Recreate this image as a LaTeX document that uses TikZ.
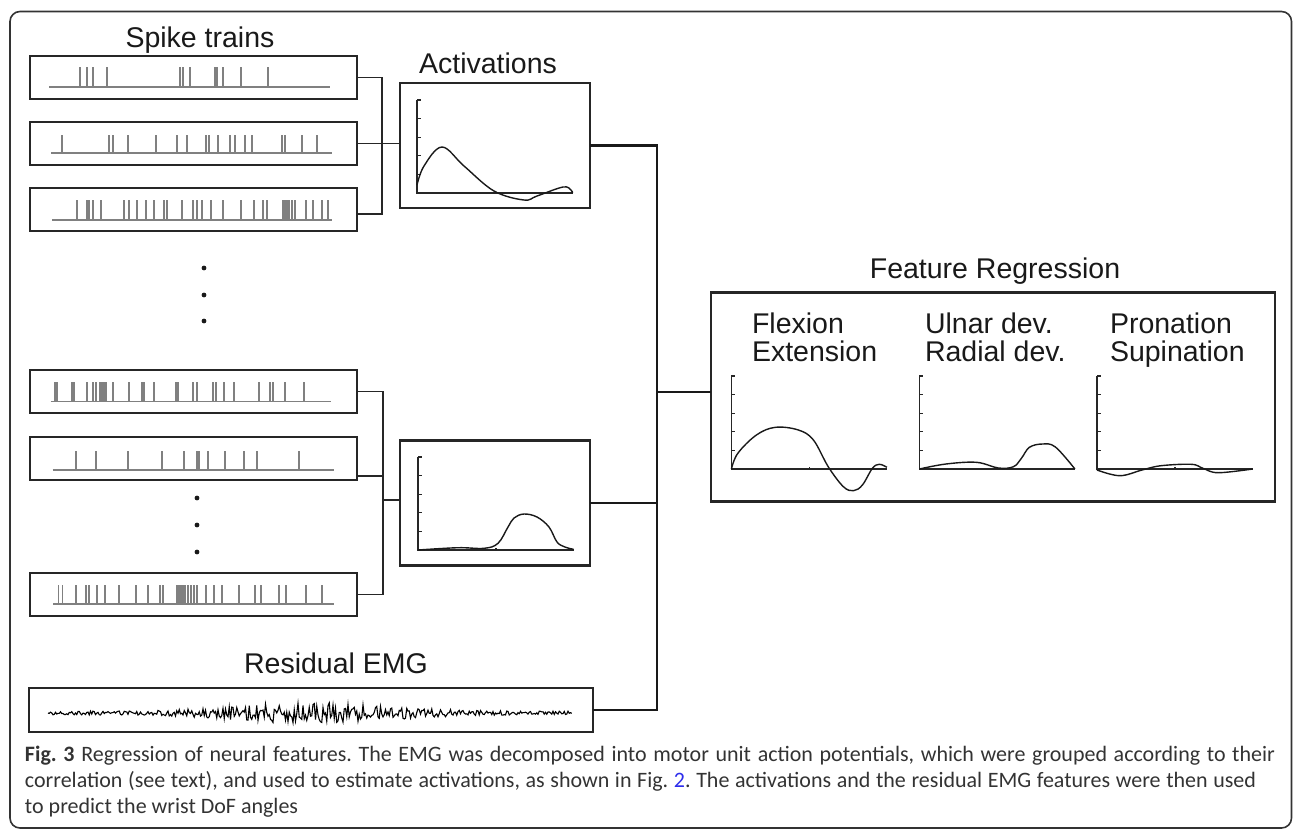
\documentclass[tikz,border=0pt]{standalone}
\usepackage{fontspec}
\setmainfont{Liberation Sans}
\newfontfamily\capfont{Carlito}
\usetikzlibrary{positioning}
\definecolor{linkblue}{RGB}{45,45,235}

% one spike train: baseline y, x from, x to, spike height, spike positions
\newcommand\spiketrain[5]{%
  \draw[spk] (#2,#1) -- (#3,#1);
  \foreach \s in {#5} \draw[spk] (\s,#1) -- (\s,#1-#4);}
% small plot with ticked axes, origin at the axes corner
\newcommand\miniplot[2]{%
  \begin{scope}[shift={#1}, yscale=-1]
    \draw[axis] (0,93) -- (0,0) -- (155.5,0);
    \foreach \t in {18.6,37.2,55.8,74.4,93} \draw[axis] (0,\t) -- (4,\t);
    \draw[axis] (78,0) -- (78,2);
    \draw[curve] plot[smooth, tension=0.6] coordinates {#2};
  \end{scope}}

\begin{document}
\frenchspacing
\begin{tikzpicture}[x=0.5pt,y=-0.5pt]
\tikzset{every node/.style={inner sep=0pt, outer sep=0pt}}
\tikzset{trainbox/.style={draw=black!85, line width=1.1pt, minimum width=163.5pt, minimum height=21.5pt}}
\tikzset{plotbox/.style={draw=black!85, line width=1.1pt, minimum width=95pt, minimum height=62.5pt}}
\tikzset{widebox/.style={draw=black!85, line width=1.1pt, minimum width=282pt}}
\tikzset{title/.style={font=\fontsize{14.25}{14}\selectfont, text=black!90, anchor=base}}
\tikzset{subtitle/.style={title, anchor=base west, align=left}}
\tikzset{captext/.style={font=\capfont\fontsize{11}{13}\selectfont, text=black!80, anchor=base west}}
\tikzset{spk/.style={draw=black!50, line width=0.75pt}}
\tikzset{axis/.style={draw=black!85, line width=0.6pt}}
\tikzset{curve/.style={draw=black!90, line width=0.7pt}}
\tikzset{link/.style={draw=black!85, line width=0.8pt}}
\tikzset{busline/.style={draw=black!90, line width=1.2pt}}
\useasboundingbox (0,0) rectangle (1293,831);
\draw[black!80, line width=0.8pt, rounded corners=5pt] (10,11.5) rectangle (1291.5,828);

% spike trains
\node[title] (tspike) at (200,47) {Spike trains};
\node[trainbox] (st1) at (193.5,77.5) {};
\node[trainbox, below=11.5pt of st1] (st2) {};
\node[trainbox, below=11.5pt of st2] (st3) {};
\node[trainbox] (st4) at (193.5,391.5) {};
\node[trainbox, below=12pt of st4] (st5) {};
\node[trainbox] (st6) at (193.5,594.5) {};
\spiketrain{87}{49}{330}{20}{80,87,93,107,180,183,190,215,217,223,241,268}
\spiketrain{153}{51}{332}{18}{62,109,113,128,156,177,187,206,209,218,230,235,245,252,282,285,302,317}
\spiketrain{220}{52}{332}{20}{77,87,89,93,101,124,129,137,146,154,164,167,182,193,197,202,211,223,241,254,263,267,283,285,287,289,292,295,306,313,322,328}
\spiketrain{401.7}{50.6}{331}{20}{55,57,72,74,87,93,96,100,102,104,106,113,129,142,144,154,176,178,193,197,213,216,224,234,259,270,273,285,304}
\spiketrain{470}{52.6}{334}{19}{76,96,128,162,184,197,199,208,225,244,257,299}
\spiketrain{604}{53}{334}{19}{58.5,62.5,76,86,89,97,105,119,136,148,160,163,177,179,181,183,185,188,191,194,197,206,214,222,239,255,261,279,286,306,322}
\foreach \y in {268,295,321} \fill[black!90] (204,\y) circle (1.2pt);
\foreach \y in {498,525,552} \fill[black!90] (197,\y) circle (1.2pt);

% activations
\node[title] (tact) at (488,73) {Activations};
\node[plotbox] (act1) at (495,145.5) {};
\node[plotbox] (act2) at (495,503) {};
\miniplot{(417,193)}{(0,8) (7,27) (25,46) (47,27) (77,2) (107,-7) (120,-3) (146,6) (154,3) (155.5,0)}
\miniplot{(418,550)}{(0,0) (40,2.3) (66,1.7) (80,6.7) (90,23) (96,32) (106,36) (119,33) (131,23) (139,8) (147,3) (155.5,0.7)}

\coordinate (ja) at (382,145);
\coordinate (jb) at (383,500);
\draw[link] (st1.east) -| (ja) |- ([yshift=-2.25pt]st3.east);
\draw[link] (st2.east) -- (st2.east -| act1.west);
\draw[link] (st4.east) -| (jb) |- (st6.east);
\draw[link] ([yshift=-8.75pt]st5.east) -- ([yshift=-8.75pt]st5.east -| jb);
\draw[link] (jb) -- (jb -| act2.west);

% residual EMG
\node[title] (temg) at (336,673) {Residual EMG};
\node[widebox, minimum height=22pt] (emg) at (311,710) {};
\pgfmathsetseed{7}
\draw[black, line width=0.55pt] (48,713) \foreach \i [evaluate=\i as \xx using 48+1.25*\i,
  evaluate=\i as \aa using 1.8+9*exp(-((48+1.25*\i-315)/105)^2)] in {1,...,419} { -- (\xx,{713+\aa*rand}) };

% feature regression
\node[title] (tfr) at (995,278) {Feature Regression};
\node[widebox, minimum height=104.5pt] (fr) at (993,397) {};
\node[subtitle] (tflex) at (752,361) {Flexion\\Extension};
\node[subtitle] (tulnar) at (925,361) {Ulnar dev.\\Radial dev.};
\node[subtitle] (tpron) at (1110,361) {Pronation\\Supination};
\miniplot{(731.4,469)}{(0,0) (6.4,15.7) (25,34) (44,41.7) (67,39) (82,29) (97,2) (112,-17.7) (122,-21.7) (131,-16) (141,0.7) (148,4.7) (155.5,1.7)}
\miniplot{(919.4,469)}{(0,0) (26.5,5) (57,6.7) (79,1) (94,2.3) (102,10.7) (110,21.7) (123,25) (136,22) (155.5,0)}
\miniplot{(1097,469)}{(0,-1) (22.7,-6.7) (45,-1) (64,3.3) (94.5,4.7) (106,0.7) (121,-3.7) (155.5,0)}

\coordinate (bus) at (657,392);
\draw[busline] (act1.east) -| (bus) |- (emg.east);
\draw[busline] (act2.east) -- (act2.east -| bus);
\draw[busline] (bus) -- (bus -| fr.west);

% caption
\node[captext] (cap1) at (25,761) {\makebox[625pt][s]{\textbf{Fig. 3} Regression of neural features. The EMG was decomposed into motor unit action potentials, which were grouped according to their}};
\node[captext] (cap2) at (25,787) {\makebox[615.5pt][s]{correlation (see text), and used to estimate activations, as shown in Fig.~\textcolor{linkblue}{2}. The activations and the residual EMG features were then used}};
\node[captext] (cap3) at (25,813) {to predict the wrist DoF angles};
\end{tikzpicture}
\end{document}
